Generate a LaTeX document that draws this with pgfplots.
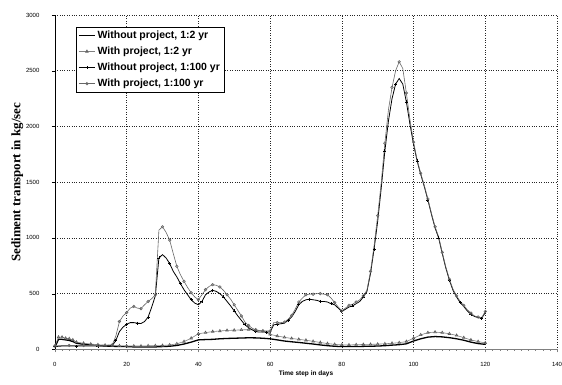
\documentclass[border=0pt]{standalone}
\usepackage{fontspec}
\setmainfont{Liberation Serif}
\setsansfont{Liberation Sans}
\usepackage{pgfplots}
\pgfplotsset{compat=1.18}
\begin{document}
\begin{tikzpicture}
\begin{axis}[
  name=ax,
  scale only axis,
  width=503pt, height=335pt,
  xmin=0, xmax=140, ymin=0, ymax=3000,
  xtick={0,20,...,140}, ytick={0,500,...,3000},
  axis x line*=bottom, axis y line*=left,
  x axis line style={gray, -}, y axis line style={black, -},
  tick align=outside, major tick length=3pt,
  xtick style={gray}, ytick style={black},
  minor x tick num=9, minor tick length=1.5pt,
  grid=major, major grid style={black!85, dotted, line width=0.6pt},
  tick label style={font=\sffamily\fontsize{6}{7}\selectfont},
  /pgf/number format/assume math mode=true,
  scaled y ticks=false, yticklabel style={/pgf/number format/1000 sep={}, xshift=-9pt},
  xticklabel style={yshift=-6pt},
  xlabel={\sffamily\bfseries\fontsize{6.5}{8}\selectfont Time step in days},
  ylabel={\rmfamily\bfseries\fontsize{13}{15}\selectfont Sediment transport in kg/sec},
  xlabel style={yshift=2pt},
  ylabel style={yshift=-4pt},
  legend style={at={(rel axis cs:0.042,0.965)}, anchor=north west, draw=black,
    font=\sffamily\bfseries\fontsize{10.5}{12}\selectfont, row sep=3pt,
    inner xsep=2pt, inner ysep=2pt},
  legend cell align=left,
  legend image post style={xscale=0.95},
  clip=false,
]
% Without project, 1:2 yr
\addplot[black, line width=1.3pt] coordinates {
(0,20)(1,90)(2,90)(3,85)(4,80)(5,70)(6,55)(8,45)(10,40)(12,35)(14,30)(16,28)(18,25)(20,25)
(22,22)(24,22)(26,22)(28,22)(30,25)(32,28)(34,35)(36,48)(38,65)(40,85)(42,88)(44,90)(46,95)
(48,98)(50,100)(52,102)(54,104)(56,103)(58,100)(60,95)(62,85)(64,75)(66,68)(68,62)(70,55)
(72,48)(74,40)(76,33)(78,28)(80,25)(82,25)(84,25)(86,27)(88,28)(90,30)(92,33)(94,38)(96,42)
(98,50)(100,75)(102,95)(104,110)(106,115)(108,112)(110,105)(112,95)(114,82)(116,65)(118,52)(120,45)};
\addlegendentry{Without project, 1:2 yr}
% With project, 1:2 yr
\addplot[gray, line width=0.6pt, mark=triangle, mark size=1.5pt, mark options={solid, gray!70!black}] coordinates {
(0,30)(1,110)(2,110)(3,100)(4,95)(5,85)(6,65)(8,55)(10,48)(12,42)(14,38)(16,35)(18,32)(20,30)
(22,30)(24,30)(26,32)(28,33)(30,35)(32,40)(34,50)(36,70)(38,100)(40,140)(42,150)(44,160)(46,165)
(48,170)(50,172)(52,175)(54,177)(56,175)(58,165)(60,135)(62,120)(64,108)(66,98)(68,90)(70,82)
(72,72)(74,62)(76,52)(78,45)(80,40)(82,40)(84,42)(86,44)(88,45)(90,47)(92,50)(94,55)(96,60)
(98,70)(100,100)(102,130)(104,150)(106,155)(108,150)(110,140)(112,125)(114,105)(116,85)(118,70)(120,58)};
\addlegendentry{With project, 1:2 yr}
% Without project, 1:100 yr
\addplot[black, line width=0.8pt, mark=+, mark size=1.5pt, mark repeat=3] coordinates {
(0,25)(2,30)(4,30)(6,30)(8,30)(10,30)(12,30)(14,30)(16,35)(17,80)(18,160)(19,200)(20,225)
(21,240)(22,240)(23,235)(24,232)(25,250)(26,290)(27,380)(28,480)(29,820)(30,850)(31,820)
(32,770)(33,700)(34,650)(35,590)(36,535)(37,490)(38,445)(39,415)(40,400)(41,430)(42,490)
(43,515)(44,530)(45,520)(46,500)(47,470)(48,430)(49,390)(50,345)(51,300)(52,260)(53,220)
(54,195)(55,175)(56,160)(57,155)(58,155)(59,155)(60,155)(61,220)(62,225)(63,230)(64,235)
(65,260)(66,290)(67,340)(68,400)(69,430)(70,445)(71,450)(72,445)(73,440)(74,430)(75,430)
(76,425)(77,410)(78,400)(79,370)(80,340)(81,360)(82,380)(83,390)(84,410)(85,430)(86,470)
(87,520)(88,680)(89,900)(90,1150)(91,1450)(92,1780)(93,2050)(94,2250)(95,2380)(96,2430)
(97,2380)(98,2220)(99,2020)(100,1840)(101,1690)(102,1570)(103,1460)(104,1340)(105,1210)
(106,1090)(107,1000)(108,860)(109,730)(110,620)(111,530)(112,470)(113,420)(114,385)
(115,345)(116,315)(117,295)(118,285)(119,280)(120,330)};
\addlegendentry{Without project, 1:100 yr}
% With project, 1:100 yr
\addplot[gray!80!black, line width=0.6pt, mark=o, mark size=1.3pt, mark repeat=2] coordinates {
(0,30)(2,35)(4,35)(6,35)(8,35)(10,35)(12,35)(14,38)(16,40)(17,120)(18,250)(19,300)(20,330)
(21,370)(22,385)(23,370)(24,366)(25,400)(26,430)(27,455)(28,490)(29,1070)(30,1100)(31,1050)
(32,980)(33,860)(34,745)(35,670)(36,610)(37,555)(38,508)(39,470)(40,446)(41,490)(42,536)
(43,565)(44,580)(45,575)(46,560)(47,530)(48,490)(49,450)(50,400)(51,350)(52,300)(53,245)
(54,215)(55,190)(56,175)(57,168)(58,165)(59,165)(60,165)(61,240)(62,240)(63,240)(64,245)
(65,270)(66,305)(67,360)(68,425)(69,460)(70,490)(71,495)(72,495)(73,500)(74,500)(75,495)
(76,490)(77,460)(78,420)(79,380)(80,345)(81,370)(82,395)(83,405)(84,425)(85,445)(86,480)
(87,530)(88,700)(89,930)(90,1200)(91,1500)(92,1850)(93,2150)(94,2350)(95,2500)(96,2580)
(97,2520)(98,2300)(99,2060)(100,1860)(101,1700)(102,1580)(103,1470)(104,1350)(105,1220)
(106,1100)(107,1010)(108,870)(109,740)(110,630)(111,540)(112,480)(113,430)(114,395)
(115,355)(116,325)(117,300)(118,290)(119,285)(120,340)};
\addlegendentry{With project, 1:100 yr}
\coordinate (bl) at (rel axis cs:0,0);
\coordinate (tr) at (rel axis cs:1,1);
\end{axis}
\pgfresetboundingbox
\path[use as bounding box] ([shift={(-55pt,-35pt)}]bl) rectangle ([shift={(5pt,15pt)}]tr);
\end{tikzpicture}
\end{document}
